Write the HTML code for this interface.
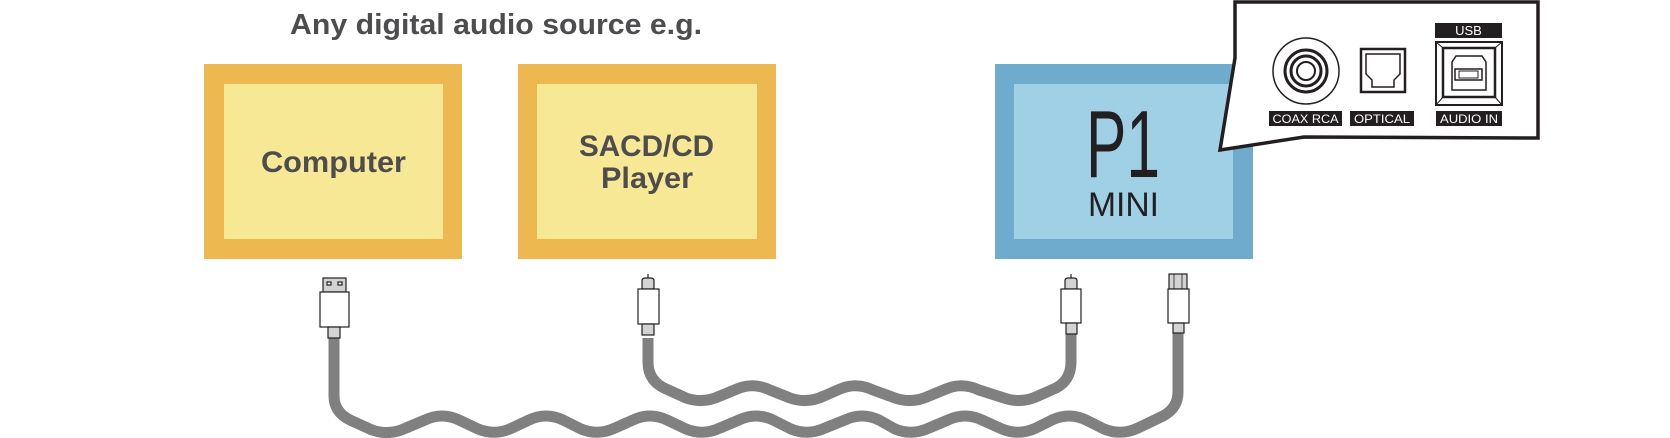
<!DOCTYPE html>
<html><head><meta charset="utf-8"><style>
html,body{margin:0;padding:0;background:#fff;}
svg{display:block;}
text{font-family:"Liberation Sans",sans-serif;}
</style></head><body>
<svg width="1670" height="438" viewBox="0 0 1670 438" xmlns="http://www.w3.org/2000/svg">
<text x="290" y="34" font-size="29" font-weight="bold" fill="#4d4d4f" textLength="412" lengthAdjust="spacingAndGlyphs">Any digital audio source e.g.</text>
<rect x="204" y="64" width="258" height="195" fill="#eeb851"/>
<rect x="224" y="84" width="219" height="155" fill="#f7e896"/>
<text x="261" y="172" font-size="30" font-weight="bold" fill="#4d4d4f" textLength="145" lengthAdjust="spacingAndGlyphs">Computer</text>
<rect x="518" y="64" width="258" height="195" fill="#eeb851"/>
<rect x="537" y="84" width="220" height="155" fill="#f7e896"/>
<text x="579" y="156" font-size="30" font-weight="bold" fill="#4d4d4f" textLength="135" lengthAdjust="spacingAndGlyphs">SACD/CD</text>
<text x="601" y="188" font-size="30" font-weight="bold" fill="#4d4d4f" textLength="92" lengthAdjust="spacingAndGlyphs">Player</text>
<rect x="995" y="64" width="258" height="195" fill="#6eabcc"/>
<rect x="1014" y="84" width="219" height="155" fill="#a0d0e6"/>
<text x="1086" y="177" font-size="96" fill="#231f20" textLength="74" lengthAdjust="spacingAndGlyphs">P1</text>
<text x="1088" y="216" font-size="34" fill="#231f20" textLength="71" lengthAdjust="spacingAndGlyphs">MINI</text>
<polygon points="1235,2 1538,2 1538,138 1304,137 1220,150 1235,58" fill="#fff" stroke="#231f20" stroke-width="3.5" stroke-linejoin="miter"/>
<circle cx="1306" cy="71" r="33" fill="#fff" stroke="#231f20" stroke-width="1.5"/>
<circle cx="1306" cy="71" r="21" fill="none" stroke="#231f20" stroke-width="3"/>
<circle cx="1306" cy="71" r="15" fill="none" stroke="#231f20" stroke-width="3"/>
<circle cx="1306" cy="71" r="9" fill="none" stroke="#231f20" stroke-width="2"/>
<rect x="1361" y="49" width="44" height="43" fill="#fff" stroke="#231f20" stroke-width="2.5"/>
<path d="M1366,54 H1400 V74 L1394,80 V87 H1372 V80 L1366,74 Z" fill="none" stroke="#231f20" stroke-width="1.5"/>
<rect x="1435" y="23" width="67" height="15" fill="#231f20"/>
<text x="1468.5" y="35" font-size="13" fill="#fff" text-anchor="middle">USB</text>
<rect x="1436" y="42" width="66" height="63" fill="#fff" stroke="#231f20" stroke-width="2"/>
<rect x="1443" y="48" width="52" height="49" fill="none" stroke="#231f20" stroke-width="2.5"/>
<path d="M1436,42 L1443,48 M1502,42 L1495,48 M1436,105 L1443,97 M1502,105 L1495,97" stroke="#231f20" stroke-width="1"/>
<path d="M1456,56 H1482 L1486,62 V90 H1452 V62 Z" fill="none" stroke="#231f20" stroke-width="1.5"/>
<rect x="1455" y="69" width="27" height="11" fill="none" stroke="#231f20" stroke-width="1.5"/>
<rect x="1459" y="71" width="19" height="7" fill="none" stroke="#231f20" stroke-width="1"/>
<rect x="1269" y="111" width="73" height="15" fill="#231f20"/>
<text x="1305.5" y="123" font-size="12" fill="#fff" text-anchor="middle" textLength="66" lengthAdjust="spacingAndGlyphs">COAX RCA</text>
<rect x="1350" y="111" width="64" height="15" fill="#231f20"/>
<text x="1382" y="123" font-size="12" fill="#fff" text-anchor="middle" textLength="56" lengthAdjust="spacingAndGlyphs">OPTICAL</text>
<rect x="1436" y="111" width="66" height="15" fill="#231f20"/>
<text x="1469" y="123" font-size="12" fill="#fff" text-anchor="middle" textLength="58" lengthAdjust="spacingAndGlyphs">AUDIO IN</text>
<g fill="none" stroke="#808080" stroke-width="11" stroke-linecap="butt" stroke-linejoin="round">
<path d="M648,338 V362 Q648,380 664,388 L686,398 Q703,404 720,396 L737,389 Q753,382 770,390 L790,398 Q807,404 824,396 L840,389 Q856,382 873,390 L895,398 Q912,404 929,396 L946,389 Q962,382 979,390 L1004,398 Q1021,404 1038,396 L1056,388 Q1071,380 1071,362 V334"/>
<path d="M334,338 V396 Q334,412 350,420 L372,430 Q389,436 406,428 L425,420 Q442,412 459,420 L478,429 Q495,436 512,428 L529,420 Q546,412 563,420 L581,429 Q598,436 615,428 L633,420 Q650,412 667,420 L686,429 Q703,436 720,428 L739,420 Q756,412 773,420 L791,429 Q808,436 825,428 L845,420 Q862,412 879,420 L895,429 Q912,436 929,428 L948,420 Q965,412 982,420 L1002,429 Q1019,436 1036,428 L1052,420 Q1069,412 1086,420 L1104,429 Q1121,436 1138,428 L1163,416 Q1178,408 1178,392 V333"/>
</g>
<g stroke="#231f20" stroke-width="1.2">
<rect x="323" y="278" width="23" height="14" fill="#d3d3d3"/>
<rect x="327" y="282" width="4" height="3" fill="#fff"/>
<rect x="338" y="282" width="4" height="3" fill="#fff"/>
<rect x="320" y="292" width="29" height="35" fill="#fff"/>
<rect x="328" y="327" width="12" height="11" fill="#d3d3d3"/>
<line x1="648" y1="274" x2="648" y2="279"/>
<path d="M642,289 V281 Q642,278 645,278 H651 Q654,278 654,281 V289 Z" fill="#d3d3d3"/>
<rect x="638" y="289" width="21" height="35" fill="#fff"/>
<rect x="642" y="324" width="12" height="11" fill="#d3d3d3"/>
<line x1="1071" y1="274" x2="1071" y2="279"/>
<path d="M1065,289 V281 Q1065,278 1068,278 H1074 Q1077,278 1077,281 V289 Z" fill="#d3d3d3"/>
<rect x="1061" y="289" width="20" height="34" fill="#fff"/>
<rect x="1066" y="323" width="11" height="11" fill="#d3d3d3"/>
<rect x="1169" y="274" width="18" height="15" fill="#d3d3d3"/>
<line x1="1174" y1="274" x2="1174" y2="289" stroke-width="0.8"/>
<line x1="1182" y1="274" x2="1182" y2="289" stroke-width="0.8"/>
<rect x="1168" y="289" width="21" height="34" fill="#fff"/>
<rect x="1173" y="323" width="11" height="10" fill="#d3d3d3"/>
</g>
</svg>
</body></html>
